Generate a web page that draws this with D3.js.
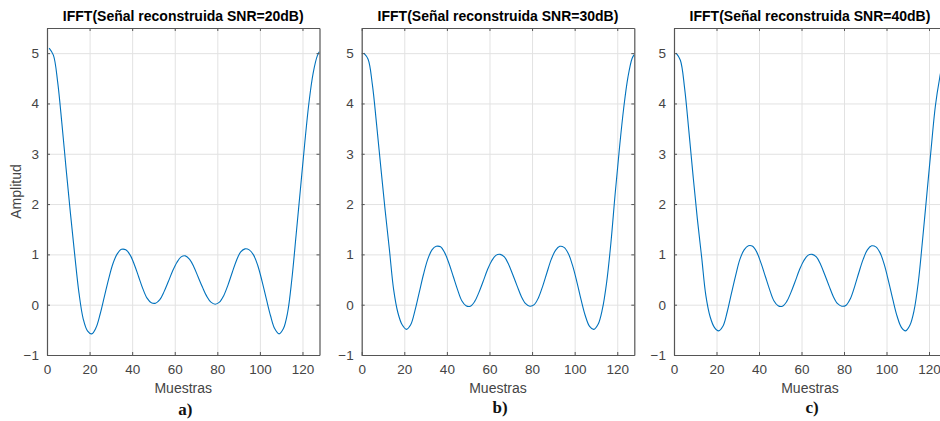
<!DOCTYPE html>
<html>
<head>
<meta charset="utf-8">
<script src="https://cdn.jsdelivr.net/npm/d3@7"></script>
<style>
  body { margin: 0; background: #fff; }
  svg { display: block; }
</style>
</head>
<body>
<svg id="chart"></svg>
<script>
// sample index (Muestras) and the three reconstructed signals
const SAMPLES = [1,3,5,7,9,11,13,15,17,19,21,23,25,27,29,31,33,35,37,39,41,43,45,47,49,51,53,55,57,59,61,63,65,
  67,69,71,73,75,77,79,81,83,85,87,89,91,93,95,97,99,101,103,105,107,109,111,113,115,117,119,121,123,125,127,128];

const SNR20 = [5.10,4.96,4.43,3.60,2.69,1.82,1.00,0.24,-0.28,-0.52,-0.58,-0.46,-0.18,0.17,0.52,0.82,1.01,1.10,1.09,0.99,0.80,0.56,0.32,0.13,0.04,0.03,0.10,0.26,0.46,0.67,0.84,0.95,0.97,
  0.90,0.75,0.55,0.35,0.17,0.05,0.01,0.05,0.18,0.39,0.64,0.88,1.05,1.11,1.09,0.99,0.78,0.47,0.12,-0.22,-0.48,-0.58,-0.48,-0.16,0.50,1.38,2.28,3.18,4.00,4.60,4.95,5.03];

const SNR30 = [5.00,4.88,4.38,3.58,2.72,1.88,1.10,0.30,-0.16,-0.40,-0.49,-0.40,-0.12,0.24,0.60,0.90,1.09,1.16,1.15,1.03,0.82,0.56,0.30,0.08,-0.02,-0.03,0.06,0.24,0.46,0.69,0.87,0.98,1.00,
  0.95,0.80,0.59,0.37,0.16,0.02,-0.03,0.00,0.14,0.37,0.64,0.90,1.08,1.16,1.14,1.02,0.78,0.46,0.10,-0.22,-0.43,-0.49,-0.39,-0.09,0.44,1.22,2.20,3.10,3.90,4.52,4.90,4.97];

const SNR40 = [5.00,4.86,4.30,3.45,2.55,1.70,0.95,0.18,-0.24,-0.45,-0.52,-0.43,-0.15,0.22,0.58,0.90,1.09,1.17,1.16,1.04,0.82,0.56,0.30,0.08,-0.02,-0.03,0.06,0.24,0.46,0.69,0.87,0.98,1.00,
  0.95,0.80,0.59,0.37,0.16,0.02,-0.03,-0.01,0.12,0.36,0.64,0.90,1.09,1.17,1.15,1.03,0.79,0.46,0.10,-0.23,-0.45,-0.52,-0.41,-0.11,0.46,1.30,2.20,3.10,3.95,4.50,4.92,5.00];

const TITLES = ["IFFT(Señal reconstruida SNR=20dB)", "IFFT(Señal reconstruida SNR=30dB)", "IFFT(Señal reconstruida SNR=40dB)"];
const LETTERS = ["a)", "b)", "c)"];
const X_TICKS = [0, 20, 40, 60, 80, 100, 120];
const Y_TICKS = [-1, 0, 1, 2, 3, 4, 5];
const X_DOMAIN = [0, 128];
const Y_DOMAIN = [-1, 5.5];

const WIDTH = 940, HEIGHT = 421;
const TOP = 28, BOTTOM = 355;
const PANELS = [
  { left: 47, width: 272.5, letterY: 415 },
  { left: 361.7, width: 272.6, letterY: 413 },
  { left: 674, width: 272, letterY: 413 }
];
const SERIES = [SNR20, SNR30, SNR40];

const svg = d3.select('#chart')
  .attr('width', WIDTH)
  .attr('height', HEIGHT);

const yScale = d3.scaleLinear().domain(Y_DOMAIN).range([BOTTOM, TOP]);

PANELS.forEach((p, i) => {
  const xScale = d3.scaleLinear().domain(X_DOMAIN).range([p.left, p.left + p.width]);
  const g = svg.append('g');

  // grid
  const grid = g.append('g').attr('class', 'grid');
  grid.append('g')
    .attr('transform', `translate(0,${BOTTOM})`)
    .call(d3.axisBottom(xScale).tickValues(X_TICKS).tickSize(-(BOTTOM - TOP)).tickFormat(''));
  grid.append('g')
    .attr('transform', `translate(${p.left},0)`)
    .call(d3.axisLeft(yScale).tickValues(Y_TICKS).tickSize(-p.width).tickFormat(''));
  grid.selectAll('.domain').remove();
  grid.selectAll('line').attr('stroke', '#e2e2e2');

  // signal
  const clipId = 'clip' + i;
  svg.append('clipPath').attr('id', clipId)
    .append('rect')
    .attr('x', p.left).attr('y', TOP)
    .attr('width', p.width).attr('height', BOTTOM - TOP);

  const line = d3.line()
    .x((d, j) => xScale(SAMPLES[j]))
    .y(d => yScale(d))
    .curve(d3.curveCatmullRom.alpha(0.5));

  g.append('path')
    .datum(SERIES[i])
    .attr('clip-path', `url(#${clipId})`)
    .attr('d', line)
    .attr('fill', 'none')
    .attr('stroke', '#0072bd')
    .attr('stroke-width', 1.1);

  // axes (box with inward ticks)
  const axes = g.append('g').attr('class', 'axes');
  const tickFont = '13.5px "Liberation Sans", Arial, sans-serif';

  const bottomAxis = axes.append('g')
    .attr('transform', `translate(0,${BOTTOM})`)
    .call(d3.axisBottom(xScale).tickValues(X_TICKS).tickSize(-3).tickSizeOuter(0).tickPadding(9));
  bottomAxis.selectAll('text').style('font', tickFont).attr('fill', '#444');

  const leftAxis = axes.append('g')
    .attr('transform', `translate(${p.left},0)`)
    .call(d3.axisLeft(yScale).tickValues(Y_TICKS).tickSize(-3).tickSizeOuter(0).tickPadding(8)
      .tickFormat(d3.format('d')));
  leftAxis.selectAll('text').style('font', tickFont).attr('fill', '#444');

  axes.append('g')
    .attr('transform', `translate(0,${TOP})`)
    .call(d3.axisTop(xScale).tickValues(X_TICKS).tickSize(-3).tickSizeOuter(0).tickFormat(''));
  axes.append('g')
    .attr('transform', `translate(${p.left + p.width},0)`)
    .call(d3.axisRight(yScale).tickValues(Y_TICKS).tickSize(-3).tickSizeOuter(0).tickFormat(''));

  axes.selectAll('.domain, .tick line').attr('stroke', '#555');
  axes.selectAll('.domain').attr('stroke-width', 1.2);

  // title
  g.append('text')
    .attr('x', p.left + p.width / 2)
    .attr('y', 20.5)
    .attr('text-anchor', 'middle')
    .style('font', 'bold 14px "Liberation Sans", Arial, sans-serif')
    .attr('fill', '#000')
    .text(TITLES[i]);

  // x label
  g.append('text')
    .attr('x', p.left + p.width / 2)
    .attr('y', 393)
    .attr('text-anchor', 'middle')
    .style('font', '14px "Liberation Sans", Arial, sans-serif')
    .attr('fill', '#444')
    .text('Muestras');

  // panel letter
  g.append('text')
    .attr('x', p.left + p.width / 2 + 2)
    .attr('y', p.letterY)
    .attr('text-anchor', 'middle')
    .style('font', 'bold 17px "Liberation Serif", "Times New Roman", serif')
    .attr('fill', '#111')
    .text(LETTERS[i]);
});

// y label on first panel
svg.append('text')
  .attr('transform', `translate(21,${(TOP + BOTTOM) / 2}) rotate(-90)`)
  .attr('text-anchor', 'middle')
  .style('font', '14px "Liberation Sans", Arial, sans-serif')
  .attr('fill', '#444')
  .text('Amplitud');
</script>
</body>
</html>
